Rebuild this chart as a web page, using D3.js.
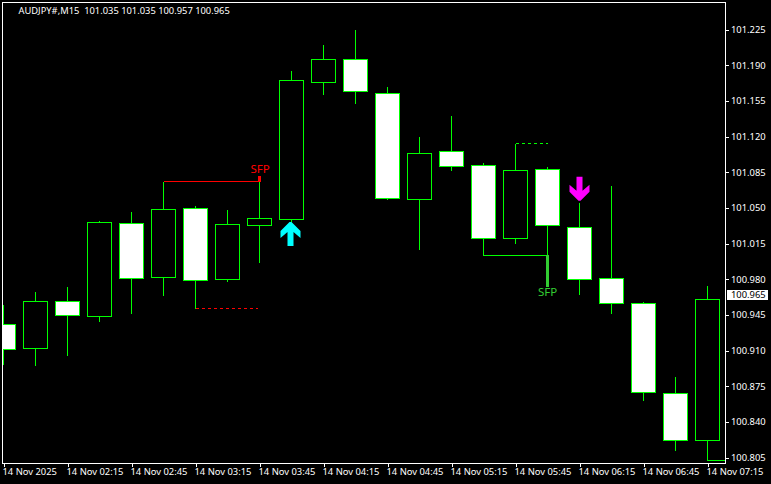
<!DOCTYPE html>
<html><head><meta charset="utf-8">
<style>html,body{margin:0;padding:0;background:#000;overflow:hidden}svg{display:block}
text{white-space:pre}</style>
<script src="https://cdnjs.cloudflare.com/ajax/libs/d3/7.9.0/d3.min.js"></script>
</head><body><svg id="c" width="771" height="484"></svg>
<script>
const opens  = [100.936,100.912,100.958,100.943,101.035,100.982,101.049,100.980,101.033,101.039,101.173,101.196,101.162,101.058,101.105,101.092,101.020,101.088,101.031,100.981,100.956,100.868,100.822];
const highs  = [100.955,100.968,100.973,101.038,101.046,101.076,101.052,101.048,101.082,101.185,101.210,101.225,101.169,101.120,101.141,101.094,101.113,101.091,101.055,101.072,100.958,100.884,100.974];
const lows   = [100.896,100.895,100.905,100.938,100.946,100.964,100.951,100.978,100.996,101.037,101.161,101.152,101.058,101.009,101.087,101.003,101.015,100.973,100.965,100.946,100.861,100.812,100.802];
const closes = [100.911,100.958,100.944,101.036,100.981,101.048,100.979,101.034,101.040,101.175,101.196,101.164,101.059,101.103,101.091,101.020,101.087,101.033,100.980,100.956,100.869,100.822,100.960];
const priceTicks = [101.225,101.190,101.155,101.120,101.085,101.050,101.015,100.980,100.945,100.910,100.875,100.840,100.805];
const timeBars = [0,2,4,6,8,10,12,14,16,18,20,22];
const timeLabels = ["14 Nov 2025","14 Nov 02:15","14 Nov 02:45","14 Nov 03:15","14 Nov 03:45","14 Nov 04:15","14 Nov 04:45","14 Nov 05:15","14 Nov 05:45","14 Nov 06:15","14 Nov 06:45","14 Nov 07:15"];
const title = "AUDJPY#,M15  101.035 101.035 100.957 100.965";
const lastPrice = 100.965;
// level lines: [fromBar, toBar, price]
const redSolid = [[5,8,101.076]], redDashed = [[6,7.95,100.951]];
const greenSolid = [[15,17,101.003],[22,22.56,100.802]], greenDashed = [[16,17,101.113]];
// SFP markers: [bar, priceA, priceB]
const redMarks = [[8,101.081,101.076]], greenMarks = [[17,101.003,100.973]];
const upArrows = [[9,101.037]], downArrows = [[18,101.055]];

const FONT = "'Noto Sans',sans-serif", GREEN="#00ff00", LIME="#32cd32", RED="#ff0000";
const L=2.5,R=725.5,T=2.5,B=463.5;
const svg=d3.select("#c");
const x=d3.scaleLinear().domain([0,1]).range([3.5,35.5]);
const y=d3.scaleLinear().domain([101.225,100.805]).range([29,457]);
const py=v=>Math.round(y(v))+.5;
svg.append("rect").attr("width",771).attr("height",484).attr("fill","#000");
svg.append("defs").append("clipPath").attr("id","plot").append("rect").attr("x",L).attr("y",T).attr("width",R-L).attr("height",B-T);
const g=svg.append("g").attr("clip-path","url(#plot)").attr("shape-rendering","crispEdges");
const bars=d3.range(opens.length);
g.selectAll("line.w").data(bars).join("line").attr("class","w")
 .attr("x1",x).attr("x2",x).attr("y1",i=>py(highs[i])).attr("y2",i=>py(lows[i])+.5).attr("stroke",GREEN);
g.selectAll("rect.b").data(bars).join("rect").attr("class","b")
 .attr("x",i=>x(i)-12).attr("width",24)
 .attr("y",i=>py(Math.max(opens[i],closes[i])))
 .attr("height",i=>py(Math.min(opens[i],closes[i]))-py(Math.max(opens[i],closes[i])))
 .attr("fill",i=>closes[i]>opens[i]?"#000":"#fff").attr("stroke",GREEN);
function levels(data,color,dash){
 g.selectAll(null).data(data).join("line").attr("x1",d=>x(d[0])).attr("x2",d=>x(d[1])).attr("y1",d=>py(d[2])).attr("y2",d=>py(d[2]))
  .attr("stroke",color).attr("stroke-dasharray",dash||null);
}
levels(redSolid,RED);levels(redDashed,RED,"3,3");levels(greenSolid,GREEN);levels(greenDashed,GREEN,"3,3");
function marks(data,color){
 g.selectAll(null).data(data).join("rect").attr("x",d=>x(d[0])-1.5).attr("width",3)
  .attr("y",d=>Math.round(y(d[1]))).attr("height",d=>Math.round(y(d[2]))-Math.round(y(d[1]))+1).attr("fill",color);
}
marks(redMarks,RED);marks(greenMarks,LIME);
const arrowG=svg.append("g");
// arrow outline in pixels relative to its tip
const upShape=[[-1,0],[1,0],[10,9],[10,16],[3,10],[3,24],[-3,24],[-3,10],[-10,16],[-10,9]];
arrowG.selectAll(null).data(upArrows).join("path").attr("fill","#00ffff")
 .attr("transform",d=>`translate(${x(d[0])-1},${y(d[1])+1.5})`).attr("d",d3.line()(upShape)+"Z");
arrowG.selectAll(null).data(downArrows).join("path").attr("fill","#ff00ff")
 .attr("transform",d=>`translate(${x(d[0])},${y(d[1])-1.5}) scale(1,-1)`).attr("d",d3.line()(upShape)+"Z");
// SFP texts
svg.append("g").selectAll(null).data(redMarks).join("text").text("SFP").attr("x",d=>x(d[0])+.5).attr("y",d=>y(d[1])-2.5)
 .attr("text-anchor","middle").attr("font-family",FONT).attr("font-size",11.5).attr("fill",RED);
svg.append("g").selectAll(null).data(greenMarks).join("text").text("SFP").attr("x",d=>x(d[0])).attr("y",d=>y(d[2])+10)
 .attr("text-anchor","middle").attr("font-family",FONT).attr("font-size",11.5).attr("fill",LIME);
// frame
svg.append("rect").attr("x",L).attr("y",T).attr("width",R-L).attr("height",B-T).attr("fill","none").attr("stroke","#fff").attr("shape-rendering","crispEdges");
// axes
const ay=svg.append("g").attr("transform",`translate(${R},0)`).call(d3.axisRight(d3.scaleLinear().domain(y.domain()).range([29.5,457.5])).tickValues(priceTicks).tickFormat(d3.format(".3f")).tickSize(3).tickPadding(2.5));
const ax=svg.append("g").attr("transform",`translate(0,${B})`).call(d3.axisBottom(x).tickValues(timeBars).tickFormat((d,i)=>timeLabels[i]).tickSize(3).tickPadding(2));
[ay,ax].forEach(a=>{a.select(".domain").remove();a.selectAll("line").attr("stroke","#fff").attr("shape-rendering","crispEdges");
 a.selectAll("text").attr("fill","#fff").attr("font-family",FONT).attr("font-size",9.4);});
ax.selectAll("text").attr("text-anchor","start").attr("dx",-1.5);
// last price tag
const tag=svg.append("g");
tag.append("rect").attr("x",727).attr("y",py(lastPrice)-4.5).attr("width",41).attr("height",10).attr("fill","#fff");
tag.append("text").text(d3.format(".3f")(lastPrice)).attr("x",731).attr("y",py(lastPrice)+3.5).attr("fill","#000").attr("font-family",FONT).attr("font-size",9.4);
svg.append("text").text(title).attr("x",18.5).attr("y",14).attr("fill","#fff").attr("font-family",FONT).attr("font-size",9.35);
</script></body></html>
